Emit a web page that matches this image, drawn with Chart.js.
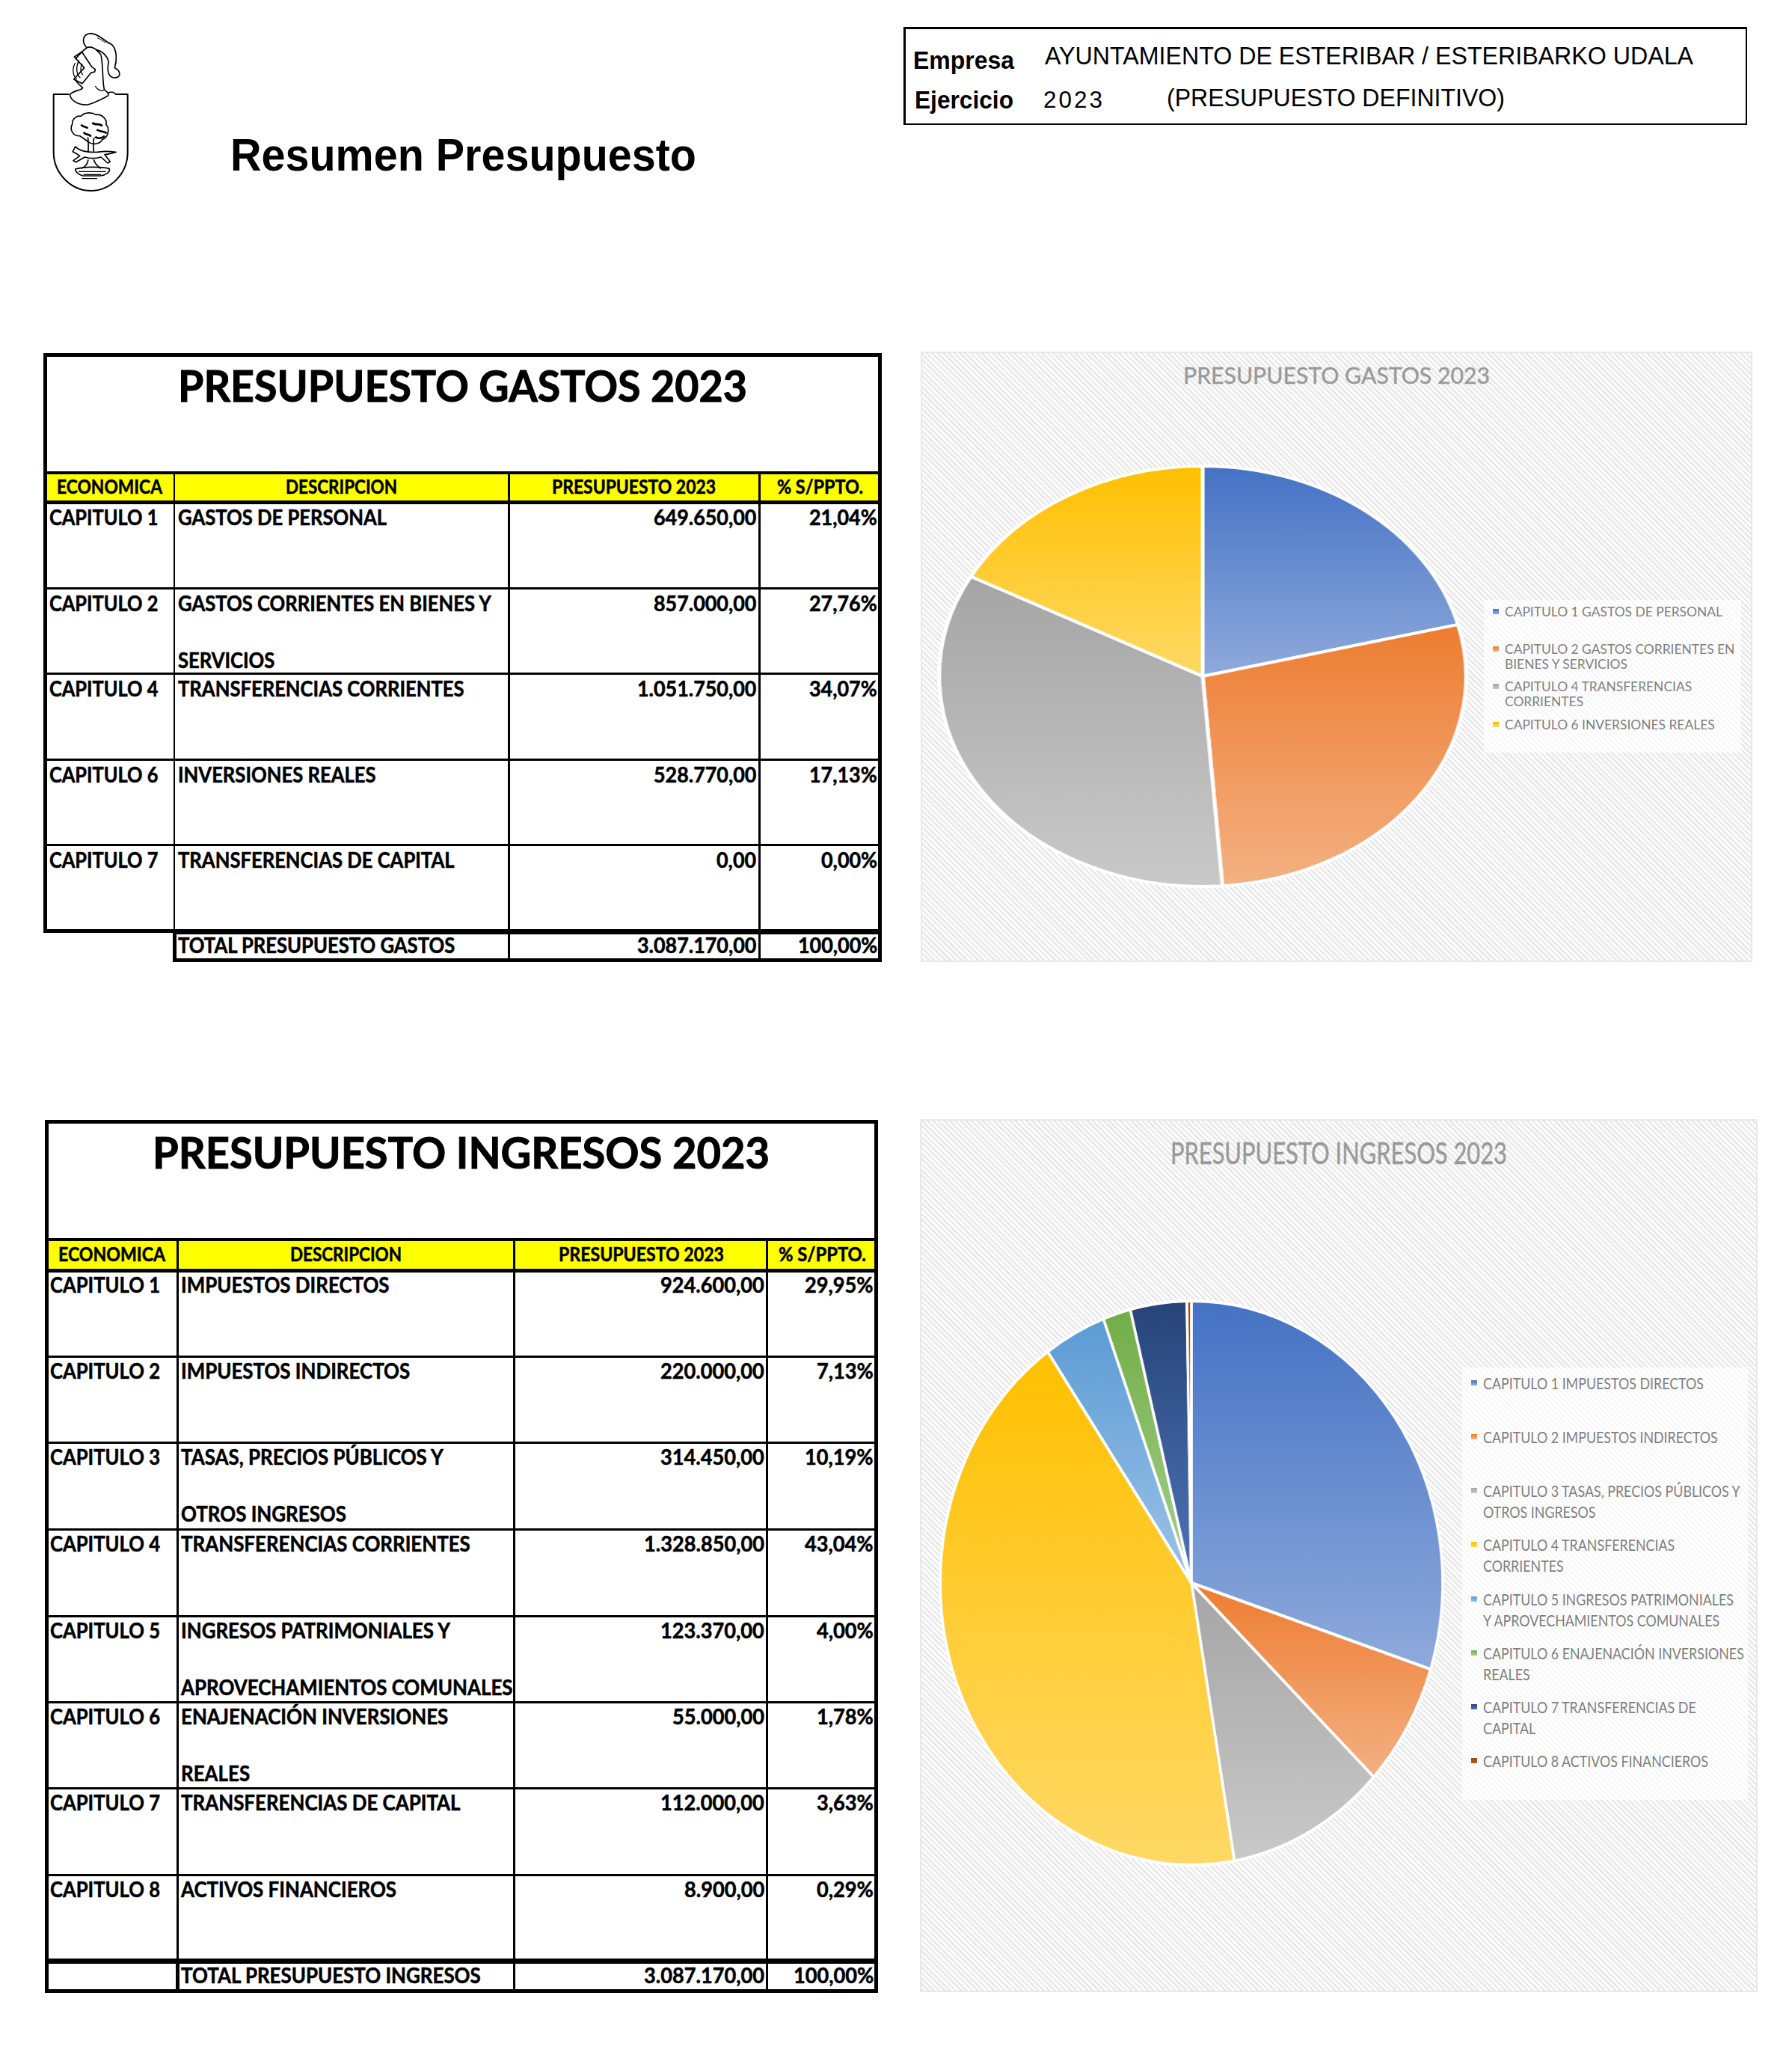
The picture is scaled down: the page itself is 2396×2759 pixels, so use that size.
<!DOCTYPE html>
<html lang="es">
<head>
<meta charset="utf-8">
<title>Resumen Presupuesto</title>
<script src="https://cdn.jsdelivr.net/npm/chart.js@4/dist/chart.umd.min.js"></script>
<style>
  html, body { margin: 0; padding: 0; background: #fff; }
  #pagina { position: relative; width: 2396px; height: 2759px; overflow: hidden; background: #fff; }
  .txt { position: absolute; white-space: pre; transform-origin: 0 50%; }
  .linea { position: absolute; background: #000; }
  .panel {
    position: absolute; box-sizing: border-box; border: 2px solid #e8e8e8;
    background: repeating-linear-gradient(45deg, #e9e9e9 0 2.6px, #fdfdfd 2.6px 5.2px);
  }
  .leyenda { position: absolute; background: rgba(255, 255, 255, 0.68); }
  .marca { position: absolute; }
  .tarta { position: absolute; }
  .tarta canvas { display: block; }
</style>
</head>
<body>
<div id="pagina">
  <svg class="marca" style="left:40px;top:40px" width="160" height="230" viewBox="0 0 480 690" fill="none" stroke="#000" stroke-width="5" stroke-linejoin="round">
    <!-- escudo -->
    <path d="M157 258H95V490C95 580 170 645 245 645C320 645 392 580 392 490V258H342" stroke-width="6" />
    <!-- penacho -->
    <path d="M228 72C205 45 212 16 245 14C282 18 300 48 328 58C352 82 348 125 340 152C366 164 366 192 340 192C314 190 308 165 316 128C310 105 292 85 265 80" />
    <path d="M228 72C245 62 262 70 285 100" />
    <path d="M270 32C285 38 295 45 305 52" stroke-width="3" />
    <!-- casco -->
    <path d="M228 72C205 88 192 105 182 118M182 200C190 215 205 225 212 232C205 245 175 240 160 260C165 285 195 302 232 300C262 292 292 275 312 265C322 255 305 248 298 238C290 205 295 150 285 100" />
    <path d="M178 108L208 88L248 148L262 158L260 168L245 172L210 215L176 198L218 152Z" />
    <path d="M182 132C168 155 172 185 188 198M197 122C183 150 186 178 202 192M210 136C200 155 203 170 212 180" stroke-width="4" />
    <path d="M262 225C270 240 285 248 298 240M312 255C325 245 335 248 345 258" stroke-width="4" />
    <!-- arbol -->
    <path d="M200 425C172 428 158 398 170 378C168 355 190 342 205 346C220 328 250 330 265 340C285 335 312 358 305 378C322 398 315 430 290 440C280 460 250 462 232 448C222 438 210 432 200 425Z" />
    <path d="M205 380C215 392 225 385 232 395M250 372C262 385 280 372 290 385M268 400C280 410 300 405 308 415M262 428C275 440 292 432 300 425M215 410C225 425 240 415 244 428" stroke-width="8" />
    <path d="M232 430C236 450 234 470 234 490M258 432C252 450 255 470 256 490M234 520C232 535 222 550 205 556M256 520C260 535 272 548 285 556" />
    <!-- lobo -->
    <path d="M172 488L182 468L195 478C220 492 260 492 290 488C310 485 330 488 345 490C330 494 315 498 300 500L322 528L312 534L285 510C265 516 240 516 220 510L185 530L174 524L200 505C190 498 180 492 172 488Z" />
    <!-- suelo -->
    <path d="M182 558C220 548 280 548 318 556C325 570 300 585 282 585H212C198 580 182 570 182 558Z" />
    <path d="M195 568H305M215 580H285M208 596H270" stroke-width="4" />
  </svg>
</div>
<script>
const gastosCodigos = ['CAPITULO 1', 'CAPITULO 2', 'CAPITULO 4', 'CAPITULO 6', 'CAPITULO 7'];
const gastosDescripcion = [['GASTOS DE PERSONAL'], ['GASTOS CORRIENTES EN BIENES Y', 'SERVICIOS'], ['TRANSFERENCIAS CORRIENTES'], ['INVERSIONES REALES'], ['TRANSFERENCIAS DE CAPITAL']];
const gastosImportes = ['649.650,00', '857.000,00', '1.051.750,00', '528.770,00', '0,00'];
const gastosPorcentajes = ['21,04%', '27,76%', '34,07%', '17,13%', '0,00%'];
const gastosTotal = ['TOTAL PRESUPUESTO GASTOS', '3.087.170,00', '100,00%'];

const ingresosCodigos = ['CAPITULO 1', 'CAPITULO 2', 'CAPITULO 3', 'CAPITULO 4', 'CAPITULO 5', 'CAPITULO 6', 'CAPITULO 7', 'CAPITULO 8'];
const ingresosDescripcion = [['IMPUESTOS DIRECTOS'], ['IMPUESTOS INDIRECTOS'], ['TASAS, PRECIOS PÚBLICOS Y', 'OTROS INGRESOS'], ['TRANSFERENCIAS CORRIENTES'], ['INGRESOS PATRIMONIALES Y', 'APROVECHAMIENTOS COMUNALES'], ['ENAJENACIÓN INVERSIONES', 'REALES'], ['TRANSFERENCIAS DE CAPITAL'], ['ACTIVOS FINANCIEROS']];
const ingresosImportes = ['924.600,00', '220.000,00', '314.450,00', '1.328.850,00', '123.370,00', '55.000,00', '112.000,00', '8.900,00'];
const ingresosPorcentajes = ['29,95%', '7,13%', '10,19%', '43,04%', '4,00%', '1,78%', '3,63%', '0,29%'];
const ingresosTotal = ['TOTAL PRESUPUESTO INGRESOS', '3.087.170,00', '100,00%'];

const cabeceras = ['ECONOMICA', 'DESCRIPCION', 'PRESUPUESTO 2023', '% S/PPTO.'];

// Valores de las tartas
const tartaGastosValores = [649650, 857000, 1051750, 528770];
const tartaGastosLeyenda = [['CAPITULO 1 GASTOS DE PERSONAL'], ['CAPITULO 2 GASTOS CORRIENTES EN', 'BIENES Y SERVICIOS'], ['CAPITULO 4 TRANSFERENCIAS', 'CORRIENTES'], ['CAPITULO 6 INVERSIONES REALES']];
const tartaIngresosValores = [924600, 220000, 314450, 1328850, 123370, 55000, 112000, 8900];
const tartaIngresosLeyenda = [['CAPITULO 1 IMPUESTOS DIRECTOS'], ['CAPITULO 2 IMPUESTOS INDIRECTOS'], ['CAPITULO 3 TASAS, PRECIOS PÚBLICOS Y', 'OTROS INGRESOS'], ['CAPITULO 4 TRANSFERENCIAS', 'CORRIENTES'], ['CAPITULO 5 INGRESOS PATRIMONIALES', 'Y APROVECHAMIENTOS COMUNALES'], ['CAPITULO 6 ENAJENACIÓN INVERSIONES', 'REALES'], ['CAPITULO 7 TRANSFERENCIAS DE', 'CAPITAL'], ['CAPITULO 8 ACTIVOS FINANCIEROS']];

// Degradado de cada porcion: [arriba, abajo]
const coloresPorcion = [
  ['#4472c4', '#8faadc'], ['#ed7d31', '#f4b183'], ['#a5a5a5', '#c9c9c9'], ['#ffc000', '#ffd966'],
  ['#5b9bd5', '#9dc3e6'], ['#70ad47', '#a9d18e'], ['#264478', '#4f74b8'], ['#9e480e', '#c55a11']
];

const pagina = document.getElementById('pagina');
const ARIAL = '"Liberation Sans", Arial, sans-serif';
const CALIBRI = 'Lato, Carlito, sans-serif';

// Coloca un texto: x segun align, y es el centro vertical. ancho o sx fijan la escala horizontal
function texto(str, x, y, o) {
  const el = document.createElement('div');
  el.className = 'txt';
  el.textContent = str;
  el.style.font = `${o.peso || 700} ${o.size}px/${o.size}px ${o.font || CALIBRI}`;
  el.style.color = o.color || '#000';
  if (o.tracking) el.style.letterSpacing = o.tracking + 'px';
  if (o.trazo) el.style.webkitTextStroke = o.trazo + 'px ' + (o.color || '#000');
  pagina.appendChild(el);
  const w = el.getBoundingClientRect().width;
  const sx = o.ancho ? o.ancho / w : (o.sx || 1);
  const real = w * sx;
  let left = x;
  if (o.align === 'right') left = x - real;
  if (o.align === 'center') left = x - real / 2;
  el.style.left = left + 'px';
  el.style.top = (y - o.size / 2 + (o.dy || 0)) + 'px';
  el.style.transform = `scaleX(${sx})`;
  return sx;
}

function linea(x, y, w, h) {
  const el = document.createElement('div');
  el.className = 'linea';
  el.style.cssText = `left:${x}px;top:${y}px;width:${w}px;height:${h}px`;
  pagina.appendChild(el);
}

function caja(x0, y0, x1, y1, g) {
  linea(x0, y0, x1 - x0, g);
  linea(x0, y1 - g, x1 - x0, g);
  linea(x0, y0, g, y1 - y0);
  linea(x1 - g, y0, g, y1 - y0);
}

function tabla(t) {
  const f = t.filas;
  const [c0, c1, c2, c3, c4] = t.columnas;
  const yTotal = f[f.length - 1];
  const trazo = 0.55;
  // fondo amarillo de la cabecera
  const fondo = document.createElement('div');
  fondo.style.cssText = `position:absolute;left:${c0}px;top:${t.yCab}px;width:${c4 - c0}px;height:${f[0] - t.yCab}px;background:#ffff00`;
  pagina.appendChild(fondo);

  caja(c0, t.arriba, c4, yTotal + 3, 5);
  linea(c0, t.yCab - 2, c4 - c0, 4);
  linea(c0, f[0] - 2, c4 - c0, 5);
  for (let i = 1; i < f.length - 1; i++) linea(c0, f[i] - 1, c4 - c0, 3);
  [c1, c2, c3].forEach(c => linea(c - 1, t.yCab, 2.5, yTotal - t.yCab));
  // fila del total
  caja(t.totalX, yTotal, c4, t.abajo, 5);
  if (t.cierraIzq) caja(c0, yTotal, c4, t.abajo, 5);
  linea(c2 - 1, yTotal, 2.5, t.abajo - yTotal);
  linea(c3 - 1, yTotal, 2.5, t.abajo - yTotal);

  texto(t.titulo, t.tituloX[0], t.tituloY, { size: 57, ancho: t.tituloX[1] - t.tituloX[0], trazo: 1 });

  t.cabeceraX.forEach((r, i) => texto(cabeceras[i], r[0], t.yCab + (f[0] - t.yCab) / 2 - 2, { size: 26, ancho: r[1] - r[0], trazo }));

  t.codigos.forEach((cod, i) => {
    const y = f[i] + t.dyTexto;
    texto(cod, t.xCod, y, { size: 28, sx: t.sx, trazo });
    t.descripcion[i].forEach((l, j) => texto(l, t.xDesc, y + j * 76, { size: 28, sx: t.sxDesc, trazo }));
    texto(t.importes[i], t.xImp, y, { size: 28, sx: t.sxNum, align: 'right', trazo });
    texto(t.porcentajes[i], t.xPct, y, { size: 28, sx: t.sxNum, align: 'right', trazo });
  });
  const yt = (yTotal + t.abajo) / 2 - 2;
  texto(t.total[0], t.xDesc, yt, { size: 28, sx: t.sxDesc, trazo });
  texto(t.total[1], t.xImp, yt, { size: 28, sx: t.sxNum, align: 'right', trazo });
  texto(t.total[2], t.xPct, yt, { size: 28, sx: t.sxNum, align: 'right', trazo });
}

// Degradado vertical ajustado a la caja de la porcion, como en la hoja de calculo
function degradado(ctx, valores) {
  const i = ctx.dataIndex;
  const area = ctx.chart.chartArea;
  if (!area) return coloresPorcion[i][0];
  const suma = valores.reduce((a, b) => a + b, 0);
  const previo = valores.slice(0, i).reduce((a, b) => a + b, 0);
  const a0 = previo / suma * Math.PI * 2 - Math.PI / 2;
  const a1 = (previo + valores[i]) / suma * Math.PI * 2 - Math.PI / 2;
  const cy = (area.top + area.bottom) / 2;
  const r = Math.min(area.right - area.left, area.bottom - area.top) / 2;
  let yMin = Math.min(cy, cy + r * Math.sin(a0), cy + r * Math.sin(a1));
  let yMax = Math.max(cy, cy + r * Math.sin(a0), cy + r * Math.sin(a1));
  if (a0 < Math.PI / 2 && a1 > Math.PI / 2) yMax = cy + r;
  if (a0 <= -Math.PI / 2 + 1e-6) yMin = cy - r;
  const g = ctx.chart.ctx.createLinearGradient(0, yMin, 0, yMax);
  g.addColorStop(0, coloresPorcion[i][0]);
  g.addColorStop(1, coloresPorcion[i][1]);
  return g;
}

function grafico(g) {
  const panel = document.createElement('div');
  panel.className = 'panel';
  panel.style.cssText = `left:${g.panel[0]}px;top:${g.panel[1]}px;width:${g.panel[2] - g.panel[0]}px;height:${g.panel[3] - g.panel[1]}px`;
  pagina.appendChild(panel);

  texto(g.titulo, g.tituloX[0], g.tituloY, { size: g.tituloSize, ancho: g.tituloX[1] - g.tituloX[0], peso: 400, color: '#999999', trazo: 0.4 });

  // La imagen original esta deformada: la tarta se dibuja circular y se estira con CSS
  const tam = g.ry * 2 + 6;
  const caj = document.createElement('div');
  caj.className = 'tarta';
  caj.style.cssText = `left:${g.cx - tam / 2}px;top:${g.cy - tam / 2}px;width:${tam}px;height:${tam}px;transform:scaleX(${g.rx / g.ry});transform-origin:50% 50%`;
  const canvas = document.createElement('canvas');
  canvas.width = tam;
  canvas.height = tam;
  caj.appendChild(canvas);
  pagina.appendChild(caj);

  new Chart(canvas.getContext('2d'), {
    type: 'pie',
    data: {
      labels: g.leyenda.map(l => l.join(' ')),
      datasets: [{
        data: g.valores,
        backgroundColor: ctx => degradado(ctx, g.valores),
        borderColor: '#ffffff',
        borderWidth: 4
      }]
    },
    options: {
      responsive: false,
      animation: false,
      plugins: { legend: { display: false }, title: { display: false }, tooltip: { enabled: false } }
    }
  });

  const ley = document.createElement('div');
  ley.className = 'leyenda';
  ley.style.cssText = `left:${g.leyendaCaja[0]}px;top:${g.leyendaCaja[1]}px;width:${g.leyendaCaja[2] - g.leyendaCaja[0]}px;height:${g.leyendaCaja[3] - g.leyendaCaja[1]}px`;
  pagina.appendChild(ley);

  let sx = null;
  g.leyenda.forEach((lineas, i) => {
    const y = g.leyendaY[i];
    const m = document.createElement('div');
    m.style.cssText = `position:absolute;left:${g.marcaX}px;top:${y - 3.5}px;width:${g.marcaW}px;height:7px;background:linear-gradient(${coloresPorcion[i][0]},${coloresPorcion[i][1]})`;
    pagina.appendChild(m);
    lineas.forEach((l, j) => {
      const o = { size: g.leyendaSize, peso: 400, color: '#7f7f7f' };
      if (sx === null) o.ancho = g.leyendaAncho; else o.sx = sx;
      const s = texto(l, g.textoX, y + j * g.interlinea, o);
      if (sx === null) sx = s;
    });
  });
}

document.addEventListener('DOMContentLoaded', function() {
  // Cabecera de la pagina
  texto('Resumen Presupuesto', 308, 207, { size: 61, font: ARIAL, ancho: 623 });
  caja(1208, 36, 2336, 167, 2.5);
  texto('Empresa', 1221, 80, { size: 33, font: ARIAL, ancho: 135 });
  texto('AYUNTAMIENTO DE ESTERIBAR / ESTERIBARKO UDALA', 1397, 74, { size: 33, font: ARIAL, peso: 400, ancho: 867 });
  texto('Ejercicio', 1223, 133, { size: 33, font: ARIAL, ancho: 132 });
  texto('2023', 1395, 133, { size: 31, font: ARIAL, peso: 400, ancho: 82, tracking: 3 });
  texto('(PRESUPUESTO DEFINITIVO)', 1560, 130, { size: 33, font: ARIAL, peso: 400, ancho: 452 });

  tabla({
    titulo: 'PRESUPUESTO GASTOS 2023', tituloX: [238, 999], tituloY: 515,
    arriba: 472, yCab: 632, abajo: 1286,
    columnas: [58, 232.5, 680, 1015, 1179], totalX: 231,
    filas: [671, 785.5, 900, 1014.5, 1129, 1244],
    cabeceraX: [[76, 217], [382, 531], [738, 957], [1039, 1154]],
    dyTexto: 20, xCod: 66, xDesc: 238, xImp: 1011, xPct: 1173, sx: 0.905, sxDesc: 0.915, sxNum: 0.96,
    codigos: gastosCodigos, descripcion: gastosDescripcion, importes: gastosImportes, porcentajes: gastosPorcentajes, total: gastosTotal
  });

  tabla({
    titulo: 'PRESUPUESTO INGRESOS 2023', tituloX: [204, 1029], tituloY: 1540,
    arriba: 1497, yCab: 1657, abajo: 2664, cierraIzq: true,
    columnas: [60, 237, 687, 1025, 1174], totalX: 235,
    filas: [1698, 1813, 1928, 2044, 2160, 2275, 2390, 2505.5, 2620],
    cabeceraX: [[78, 221], [388, 537], [747, 968], [1041, 1158]],
    dyTexto: 19, xCod: 67, xDesc: 241.5, xImp: 1022, xPct: 1168, sx: 0.915, sxDesc: 0.925, sxNum: 0.97,
    codigos: ingresosCodigos, descripcion: ingresosDescripcion, importes: ingresosImportes, porcentajes: ingresosPorcentajes, total: ingresosTotal
  });

  grafico({
    panel: [1231, 470, 2343, 1286], titulo: 'PRESUPUESTO GASTOS 2023', tituloX: [1582, 1992], tituloY: 501, tituloSize: 31,
    cx: 1608, cy: 904, rx: 351, ry: 280, valores: tartaGastosValores, leyenda: tartaGastosLeyenda,
    leyendaCaja: [1984, 802, 2328, 1006], leyendaY: [817, 867, 917, 968], interlinea: 20, leyendaSize: 17, leyendaAncho: 291,
    marcaX: 1996, marcaW: 8, textoX: 2012
  });

  grafico({
    panel: [1230, 1496, 2350, 2663], titulo: 'PRESUPUESTO INGRESOS 2023', tituloX: [1565, 2015], tituloY: 1541, tituloSize: 40,
    cx: 1593, cy: 2116, rx: 335, ry: 376, valores: tartaIngresosValores, leyenda: tartaIngresosLeyenda,
    leyendaCaja: [1955, 1828, 2337, 2406], leyendaY: [1848, 1920, 1992, 2064, 2137, 2209, 2281, 2353], interlinea: 28.5, leyendaSize: 21, leyendaAncho: 295,
    marcaX: 1967, marcaW: 8, textoX: 1983
  });
});
</script>
</body>
</html>
